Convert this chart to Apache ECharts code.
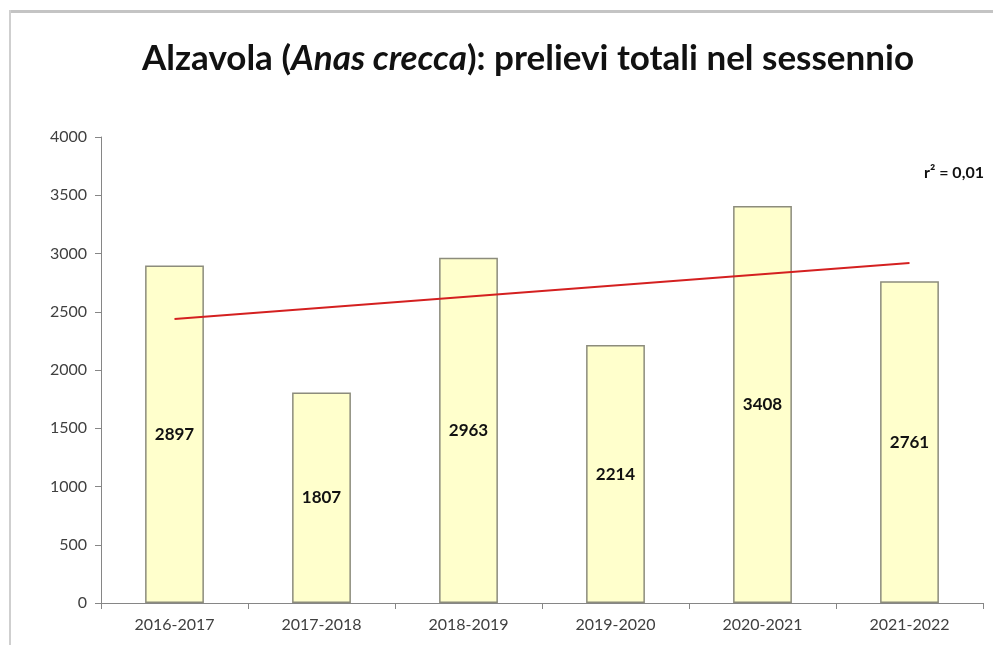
<!DOCTYPE html>
<html>
<head>
<meta charset="utf-8">
<script src="https://cdn.jsdelivr.net/npm/echarts@6/dist/echarts.min.js"></script>
<style>
  html, body { margin: 0; padding: 0; background: #fff; }
  #chart { width: 993px; height: 645px; }
</style>
</head>
<body>
<div id="chart"></div>
<script>
// stagioni venatorie
const seasons = ['2016-2017', '2017-2018', '2018-2019', '2019-2020', '2020-2021', '2021-2022']
// prelievi totali
const harvest = [2897, 1807, 2963, 2214, 3408, 2761]
// linea di tendenza (estremi)
const trend = [2438, null, null, null, null, 2918]
const yTicks = [0, 500, 1000, 1500, 2000, 2500, 3000, 3500, 4000]

const chart = echarts.init(document.getElementById('chart'))
const font = 'Lato, "Noto Sans", sans-serif'

chart.setOption({
  animation: false,
  textStyle: { fontFamily: font },
  title: {
    text: '{n|Alzavola (}{i|Anas crecca}{n|): prelievi totali nel sessennio}',
    left: 137,
    top: 36,
    textStyle: {
      rich: {
        n: { fontSize: 35, fontWeight: 'bold', color: '#111', fontFamily: font },
        i: { fontSize: 35, fontWeight: 'bold', fontStyle: 'italic', color: '#111', fontFamily: font }
      }
    }
  },
  grid: { left: 101, right: 10, top: 137, bottom: 42 },
  xAxis: {
    type: 'category',
    data: seasons,
    axisLine: { lineStyle: { color: '#868686' } },
    axisTick: { show: true, length: 6, lineStyle: { color: '#868686' } },
    axisLabel: { color: '#404040', fontSize: 16, margin: 14 }
  },
  yAxis: {
    type: 'value',
    min: yTicks[0],
    max: yTicks[yTicks.length - 1],
    interval: 500,
    axisLine: { show: true, lineStyle: { color: '#868686' } },
    axisTick: { show: true, length: 6, lineStyle: { color: '#868686' } },
    axisLabel: { color: '#404040', fontSize: 16, margin: 14, formatter: v => String(v) },
    splitLine: { show: false }
  },
  series: [
    {
      type: 'bar',
      data: harvest,
      barWidth: '40%',
      itemStyle: { color: '#ffffcc', borderColor: '#8c8c7c', borderWidth: 1.5 },
      label: {
        show: true,
        position: 'inside',
        color: '#111',
        fontWeight: 'bold',
        fontSize: 17,
        fontFamily: font
      }
    },
    {
      type: 'line',
      data: trend,
      connectNulls: true,
      symbol: 'none',
      lineStyle: { color: '#d42020', width: 2 },
      z: 5
    }
  ],
  graphic: [
    { type: 'rect', shape: { x: 9, y: 10, width: 990, height: 3 }, style: { fill: '#c4c4c4' } },
    { type: 'rect', shape: { x: 9, y: 10, width: 2, height: 640 }, style: { fill: '#cfcfcf' } },
    {
      type: 'text',
      left: 924,
      top: 165,
      style: { text: 'r² = 0,01', fontSize: 16, fontWeight: 'bold', fill: '#111', fontFamily: font }
    }
  ]
})
</script>
</body>
</html>
